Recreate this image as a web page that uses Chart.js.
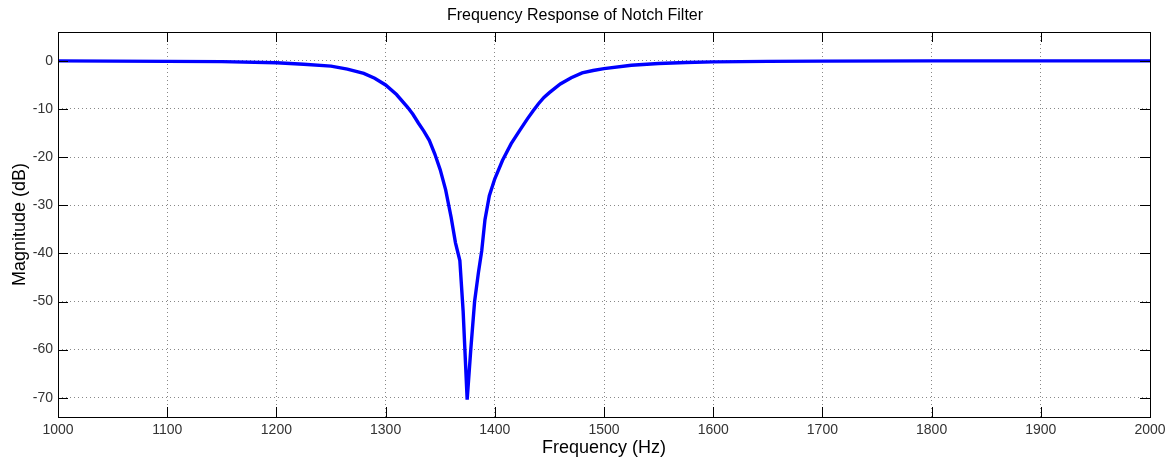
<!DOCTYPE html>
<html>
<head>
<meta charset="utf-8">
<script src="https://cdn.jsdelivr.net/npm/chart.js@4/dist/chart.umd.min.js"></script>
<style>
html,body{margin:0;padding:0;background:#fff;}
#wrap{width:1169px;height:457px;}
</style>
</head>
<body>
<div id="wrap"><canvas id="c" width="1169" height="457"></canvas></div>
<script>
const freqHz = [1000,1050,1100,1150,1200,1225,1250,1265,1280,1290,1300,1310,1320,1325,1330,1335,1340,1345,1350,1355,1360,1364,1368,1371,1374.7,1378,1381.5,1385,1388,1391,1395,1400,1407,1415,1423,1430,1435,1440,1445,1450,1460,1470,1480,1490,1500,1525,1550,1575,1600,1650,1700,1800,1900,2000];
const magDb  = [0,-0.05,-0.1,-0.15,-0.4,-0.7,-1.1,-1.7,-2.6,-3.6,-5.0,-7.0,-9.6,-11.1,-12.9,-14.6,-16.5,-19.3,-22.6,-26.8,-32.5,-37.8,-41.5,-52,-70.4,-60,-50,-44,-39.5,-33,-28,-24.5,-20.7,-17.2,-14.4,-12,-10.4,-8.9,-7.6,-6.6,-4.8,-3.5,-2.5,-2.0,-1.6,-0.9,-0.55,-0.35,-0.2,-0.1,-0.05,0,0,0];
const xTicks = [1000,1100,1200,1300,1400,1500,1600,1700,1800,1900,2000];
const yTicks = [-70,-60,-50,-40,-30,-20,-10,0];
const titleText = 'Frequency Response of Notch Filter';
const xLabel = 'Frequency (Hz)';
const yLabel = 'Magnitude (dB)';

const points = freqHz.map((f,i)=>({x:f,y:magDb[i]}));

const innerTicks = {
  id:'innerTicks',
  afterDraw(chart){
    const ctx = chart.ctx, a = chart.chartArea;
    const xs = chart.scales.x, ys = chart.scales.y;
    const L = 10;
    ctx.save();
    ctx.strokeStyle = '#000';
    ctx.lineWidth = 1;
    ctx.beginPath();
    xTicks.forEach(v=>{
      const p = Math.round(xs.getPixelForValue(v))+0.5;
      ctx.moveTo(p,a.bottom); ctx.lineTo(p,a.bottom-L);
      ctx.moveTo(p,a.top); ctx.lineTo(p,a.top+L);
    });
    yTicks.forEach(v=>{
      const p = Math.round(ys.getPixelForValue(v))+0.5;
      ctx.moveTo(a.left,p); ctx.lineTo(a.left+L,p);
      ctx.moveTo(a.right,p); ctx.lineTo(a.right-L,p);
    });
    ctx.stroke();
    ctx.strokeRect(Math.round(a.left)+0.5, Math.round(a.top)+0.5, Math.round(a.right-a.left), Math.round(a.bottom-a.top));
    ctx.restore();
  }
};

const FONT = 'Liberation Sans, Arial, sans-serif';

new Chart(document.getElementById('c'), {
  type:'scatter',
  data:{datasets:[{
    data:points,
    showLine:true,
    borderColor:'#0000ff',
    backgroundColor:'#0000ff',
    borderWidth:3.4,
    pointRadius:0,
    tension:0,
    clip:false
  }]},
  options:{
    responsive:false,
    animation:false,
    devicePixelRatio:1,
    layout:{padding:{left:0,right:19,top:0,bottom:0}},
    plugins:{
      legend:{display:false},
      tooltip:{enabled:false},
      title:{display:true,text:titleText,color:'#000',
        font:{family:FONT,size:16,weight:'normal'},
        padding:{top:6.4,bottom:6.4}}
    },
    scales:{
      x:{
        type:'linear',min:1000,max:2000,
        afterBuildTicks(s){ s.ticks = xTicks.map(v=>({value:v})); },
        afterFit(s){ s.height = 40; s.paddingLeft = 0; s.paddingRight = 0; },
        grid:{color:'#888',lineWidth:1,drawTicks:false},
        border:{display:false,dash:[1,3]},
        ticks:{color:'#333',padding:5,maxRotation:0,autoSkip:false,
          font:{family:FONT,size:14},
          callback:v=>String(v)},
        title:{display:true,text:xLabel,color:'#000',
          font:{family:FONT,size:18},
          padding:{top:0,bottom:-2}}
      },
      y:{
        type:'linear',min:-74,max:6,
        afterBuildTicks(s){ s.ticks = yTicks.map(v=>({value:v})); },
        afterFit(s){ s.width = 58; s.paddingTop = 0; s.paddingBottom = 0; },
        grid:{color:'#888',lineWidth:1,drawTicks:false},
        border:{display:false,dash:[1,3]},
        ticks:{color:'#333',padding:5,autoSkip:false,
          font:{family:FONT,size:14},
          callback:v=>String(v)},
        title:{display:true,text:yLabel,color:'#000',
          font:{family:FONT,size:18},
          padding:{top:9,bottom:0}}
      }
    }
  },
  plugins:[innerTicks]
});
</script>
</body>
</html>
